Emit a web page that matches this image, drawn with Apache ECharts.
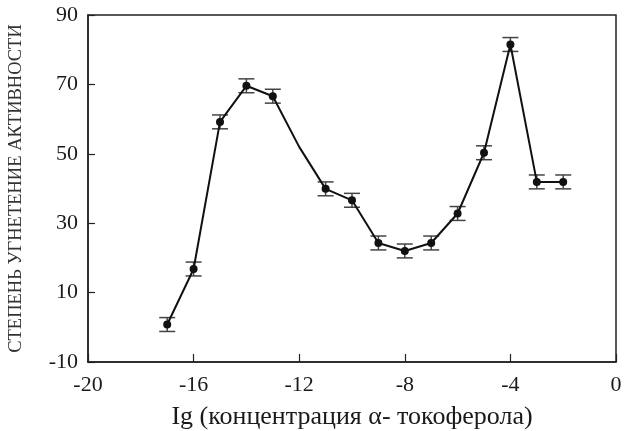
<!DOCTYPE html>
<html>
<head>
<meta charset="utf-8">
<script src="https://cdn.jsdelivr.net/npm/echarts@6/dist/echarts.min.js"></script>
<style>
html,body{margin:0;padding:0;background:#fff;}
#c{width:625px;height:431px;}
</style>
</head>
<body>
<div id="c"></div>
<script>
// Data
const xValues = [-17, -16, -15, -14, -13, -12, -11, -10, -9, -8, -7, -6, -5, -4, -3, -2];
const yValues = [0.8, 16.8, 59.2, 69.6, 66.6, 52.0, 39.9, 36.6, 24.3, 22.0, 24.3, 32.8, 50.3, 81.5, 41.9, 41.9];
const errValues = [2, 2, 2, 2, 2, null, 2, 2, 2, 2, 2, 2, 2, 2, 2, 2];
const xTicks = [-20, -16, -12, -8, -4, 0];
const yTicks = [-10, 10, 30, 50, 70, 90];
const yTitle = 'СТЕПЕНЬ УГНЕТЕНИЕ АКТИВНОСТИ';
const xTitle = 'Ig (концентрация α- токоферола)';

const FONT = '"Liberation Serif", "DejaVu Serif", serif';
const chart = echarts.init(document.getElementById('c'));

const lineData = xValues.map((x, i) => {
  const item = { value: [x, yValues[i]] };
  if (errValues[i] === null) item.symbol = 'none';
  return item;
});
const errData = [];
xValues.forEach((x, i) => {
  if (errValues[i] !== null) errData.push([x, yValues[i] - errValues[i], yValues[i] + errValues[i]]);
});

chart.setOption({
  animation: false,
  backgroundColor: '#fff',
  grid: { left: 88, right: 9, top: 15, bottom: 69, containLabel: false, outerBoundsMode: 'none', show: true, borderColor: '#222', borderWidth: 1.5, backgroundColor: 'transparent' },
  xAxis: {
    type: 'value', min: xTicks[0], max: xTicks[xTicks.length - 1], interval: 4,
    name: xTitle, nameLocation: 'middle', nameGap: 42,
    nameTextStyle: { fontFamily: FONT, fontSize: 26, color: '#1a1a1a' },
    axisLine: { show: true, onZero: false, lineStyle: { color: '#222', width: 1.5 } },
    axisTick: { show: true, inside: true, length: 8, lineStyle: { color: '#222', width: 1.2 } },
    splitLine: { show: false },
    axisLabel: { fontFamily: FONT, fontSize: 22, color: '#1a1a1a', margin: 12 }
  },
  yAxis: {
    type: 'value', min: yTicks[0], max: yTicks[yTicks.length - 1], interval: 20,
    name: yTitle, nameLocation: 'middle', nameGap: 62, nameRotate: 90,
    nameTextStyle: { fontFamily: FONT, fontSize: 18.5, color: '#333' },
    axisLine: { show: true, onZero: false, lineStyle: { color: '#222', width: 1.5 } },
    axisTick: { show: true, inside: true, length: 7, lineStyle: { color: '#222', width: 1.2 } },
    splitLine: { show: false },
    axisLabel: { fontFamily: FONT, fontSize: 22, color: '#1a1a1a', margin: 10 }
  },
  series: [
    {
      type: 'custom',
      data: errData,
      z: 2,
      renderItem: function (params, api) {
        const x = api.value(0);
        const lo = api.coord([x, api.value(1)]);
        const hi = api.coord([x, api.value(2)]);
        const w = 8;
        const style = { stroke: '#444', lineWidth: 1.5, fill: null };
        return {
          type: 'group',
          children: [
            { type: 'line', shape: { x1: lo[0], y1: lo[1], x2: hi[0], y2: hi[1] }, style: style },
            { type: 'line', shape: { x1: lo[0] - w, y1: lo[1], x2: lo[0] + w, y2: lo[1] }, style: style },
            { type: 'line', shape: { x1: hi[0] - w, y1: hi[1], x2: hi[0] + w, y2: hi[1] }, style: style }
          ]
        };
      }
    },
    {
      type: 'line',
      data: lineData,
      z: 3,
      symbol: 'circle',
      symbolSize: 8,
      itemStyle: { color: '#111' },
      lineStyle: { color: '#111', width: 2 }
    }
  ]
});
</script>
</body>
</html>
